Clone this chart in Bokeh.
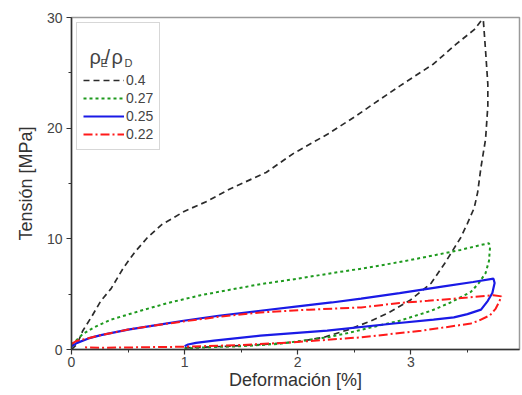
from bokeh.plotting import figure
from bokeh.models import Legend, LegendItem, Label, Range1d, FixedTicker
from bokeh.embed import file_html
from bokeh.resources import INLINE

# ---- data ----
labels = ["0.4", "0.27", "0.25", "0.22"]

x_04 = [0, 0.05, 0.1, 0.18, 0.26, 0.35, 0.46, 0.56, 0.67, 0.8, 1.0, 1.2, 1.4, 1.72, 1.96, 2.27, 2.5, 2.67, 2.9, 3.2, 3.4, 3.56, 3.62,
        3.64, 3.66, 3.68, 3.68, 3.66, 3.62, 3.59, 3.56, 3.5, 3.44, 3.3, 3.18, 3.0, 2.8, 2.65, 2.45, 2.23, 2.0, 1.7, 1.4, 1.0]
y_04 = [0, 0.5, 1.7, 3.0, 4.4, 5.5, 7.4, 8.8, 10.1, 11.3, 12.5, 13.4, 14.5, 16.0, 17.7, 19.5, 21.0, 22.2, 23.8, 25.8, 27.6, 28.9, 29.7,
        29.8, 27.0, 24.0, 22.0, 19.0, 16.5, 14.2, 12.8, 11.4, 10.1, 7.8, 6.0, 4.5, 3.3, 2.6, 1.8, 1.1, 0.7, 0.45, 0.3, 0.15]

x_027 = [0, 0.04, 0.1, 0.2, 0.35, 0.61, 0.85, 1.14, 1.4, 1.67, 2.0, 2.3, 2.56, 2.9, 3.2, 3.44, 3.6, 3.69,
         3.7, 3.69, 3.66, 3.6, 3.53, 3.35, 3.18, 2.9, 2.65, 2.45, 2.26, 2.05, 1.82, 1.5, 1.2, 1.0]
y_027 = [0.4, 0.8, 1.4, 2.0, 2.7, 3.5, 4.2, 4.9, 5.4, 5.9, 6.4, 6.9, 7.3, 7.9, 8.5, 9.0, 9.4, 9.6,
         9.3, 8.0, 6.9, 6.0, 5.2, 4.25, 3.5, 2.6, 2.0, 1.5, 1.1, 0.8, 0.5, 0.3, 0.2, 0.1]

x_025 = [0, 0.05, 0.15, 0.26, 0.5, 0.75, 0.99, 1.3, 1.67, 2.0, 2.3, 2.56, 2.9, 3.29, 3.55, 3.73,
         3.74, 3.72, 3.68, 3.62, 3.5, 3.38, 3.2, 2.85, 2.26, 1.67, 1.26, 1.1, 1.03, 1.0]
y_025 = [0.3, 0.6, 1.0, 1.3, 1.8, 2.2, 2.6, 3.05, 3.5, 3.9, 4.25, 4.6, 5.1, 5.7, 6.1, 6.4,
         6.0, 5.1, 4.4, 3.6, 3.2, 2.9, 2.7, 2.35, 1.7, 1.25, 0.8, 0.6, 0.45, 0.3]

x_022 = [0, 0.05, 0.1, 0.26, 0.5, 0.75, 1.0, 1.3, 1.67, 2.1, 2.56, 2.9, 3.15, 3.5, 3.73, 3.8,
         3.78, 3.75, 3.7, 3.6, 3.53, 3.3, 3.09, 2.56, 1.96, 1.5, 1.0, 0.6, 0.26, 0.1]
y_022 = [0.5, 0.8, 0.9, 1.3, 1.8, 2.2, 2.55, 2.95, 3.35, 3.6, 3.8, 4.2, 4.4, 4.7, 4.9, 4.8,
         4.3, 3.7, 3.1, 2.6, 2.35, 2.0, 1.7, 1.1, 0.65, 0.4, 0.25, 0.2, 0.15, 0.2]

x_ticks = [0, 1, 2, 3, 4]
y_ticks = [0, 10, 20, 30]

FONT = "Liberation Sans"

p = figure(width=522, height=395, output_backend="svg", toolbar_location=None,
           x_range=Range1d(0, 3.96), y_range=Range1d(0, 30),
           min_border_left=71, min_border_right=3, min_border_top=17, min_border_bottom=46)

p.xgrid.visible = False
p.ygrid.visible = False
p.outline_line_color = "#9a9a9a"
p.outline_line_width = 1.5
p.background_fill_color = "white"
p.border_fill_color = "white"

for ax in (p.xaxis[0], p.yaxis[0]):
    ax.axis_line_color = "#333333"
    ax.axis_line_width = 1.5
    ax.major_tick_line_color = "#333333"
    ax.minor_tick_line_color = "#333333"
    ax.major_tick_line_width = 1.2
    ax.minor_tick_line_width = 1.0
    ax.major_tick_out = 5
    ax.major_tick_in = 0
    ax.minor_tick_out = 3
    ax.minor_tick_in = 0
    ax.major_label_text_font = FONT
    ax.major_label_text_font_size = "14px"
    ax.major_label_text_color = "#444444"
    ax.axis_label_text_font = FONT
    ax.axis_label_text_font_size = "18px"
    ax.axis_label_text_font_style = "normal"
    ax.axis_label_text_color = "#333333"

p.xaxis.ticker = FixedTicker(ticks=x_ticks, minor_ticks=[0.5, 1.5, 2.5, 3.5])
p.yaxis.ticker = FixedTicker(ticks=y_ticks, minor_ticks=[5, 15, 25])
p.xaxis.axis_label = "Deformación [%]"
p.yaxis.axis_label = "Tensión [MPa]"
p.xaxis.major_label_standoff = 2
p.xaxis.axis_label_standoff = 0
p.yaxis.major_label_standoff = 4
p.yaxis.axis_label_standoff = 8

r1 = p.line(x_04, y_04, line_color="#2b2b2b", line_width=1.7, line_dash="6 4")
r2 = p.line(x_027, y_027, line_color="#1e9a1e", line_width=2, line_dash="3 3")
r3 = p.line(x_025, y_025, line_color="#1a1ae6", line_width=2.2)
r4 = p.line(x_022, y_022, line_color="#ff1a1a", line_width=2, line_dash="9 3 2 3")

legend = Legend(items=[LegendItem(label=labels[0], renderers=[r1]),
                       LegendItem(label=labels[1], renderers=[r2]),
                       LegendItem(label=labels[2], renderers=[r3]),
                       LegendItem(label=labels[3], renderers=[r4])],
                location=(5, 199), title="\u00a0", title_text_font_size="37px",
                title_standoff=0, padding=6, spacing=0, margin=0,
                glyph_width=41, glyph_height=18, label_height=18, label_standoff=2,
                label_text_font=FONT, label_text_font_size="14px", label_text_color="#444444",
                border_line_color="#b0b0b0", border_line_width=1, background_fill_alpha=0)
p.add_layout(legend)

# legend title with subscripts
def lab(px, py, txt, size):
    x = (px - 71) / 113.0
    y = (349 - py) / 11.06
    p.add_layout(Label(x=x, y=y, text=txt, text_font=FONT, text_font_size=size,
                       text_color="#444444", text_baseline="alphabetic", level="overlay"))

lab(89, 57, "ρ", "20px")
lab(100, 63, "E", "11px")
lab(104, 57, "/", "20px")
lab(111, 57, "ρ", "20px")
lab(124, 63, "D", "11px")

open("out.html", "w").write(file_html(p, INLINE))
